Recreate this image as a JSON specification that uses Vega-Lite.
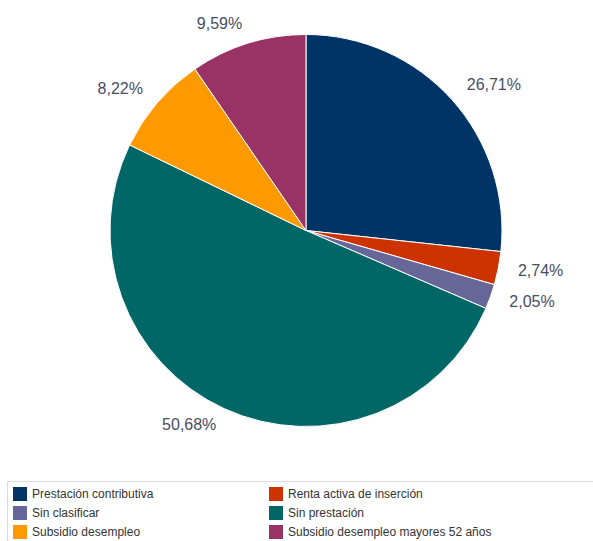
{
  "$schema": "https://vega.github.io/schema/vega-lite/v6.json",
  "width": 612,
  "height": 461,
  "autosize": {"type": "pad"},
  "padding": 0,
  "background": "white",
  "config": {
    "view": {"stroke": null},
    "locale": {"number": {"decimal": ",", "thousands": ".", "grouping": [3], "currency": ["", " €"]}}
  },
  "data": {
    "values": [
      {"cat": "Prestación contributiva", "v": 0.2671},
      {"cat": "Renta activa de inserción", "v": 0.0274},
      {"cat": "Sin clasificar", "v": 0.0205},
      {"cat": "Sin prestación", "v": 0.5068},
      {"cat": "Subsidio desempleo", "v": 0.0822},
      {"cat": "Subsidio desempleo mayores 52 años", "v": 0.0959}
    ]
  },
  "encoding": {
    "theta": {"field": "v", "type": "quantitative", "stack": true},
    "order": {"field": "cat", "type": "nominal", "sort": "ascending"}
  },
  "layer": [
    {
      "mark": {"type": "arc", "outerRadius": 196, "stroke": "white", "strokeWidth": 1},
      "encoding": {
        "color": {
          "field": "cat",
          "type": "nominal",
          "scale": {
            "domain": ["Prestación contributiva", "Renta activa de inserción", "Sin clasificar", "Sin prestación", "Subsidio desempleo", "Subsidio desempleo mayores 52 años"],
            "range": ["#003366", "#cc3300", "#666699", "#006666", "#ff9900", "#993366"]
          },
          "legend": {
            "orient": "none",
            "direction": "horizontal",
            "legendX": 7,
            "legendY": 481,
            "columns": 2,
            "title": "\u00a0",
            "titleOrient": "right",
            "titlePadding": 110,
            "titleFontSize": 4,
            "symbolType": "square",
            "symbolSize": 196,
            "symbolStrokeWidth": 0,
            "labelFont": "Liberation Sans",
            "labelFontSize": 12,
            "labelColor": "#333333",
            "labelOffset": 5,
            "labelLimit": 1000,
            "padding": 6,
            "rowPadding": 5,
            "columnPadding": 115,
            "fillColor": "white",
            "strokeColor": "#dcdce6"
          }
        }
      }
    },
    {
      "mark": {"type": "text", "radius": 216, "align": "left", "baseline": "middle", "dy": -1, "fontSize": 16, "font": "Liberation Sans", "fill": "#474d63"},
      "encoding": {
        "detail": {"field": "cat"},
        "text": {
          "condition": {"test": "datum.cat === 'Prestación contributiva' || datum.cat === 'Renta activa de inserción' || datum.cat === 'Sin clasificar'", "field": "v", "type": "quantitative", "format": ".2%"},
          "value": ""
        }
      }
    },
    {
      "mark": {"type": "text", "radius": 215, "align": "right", "baseline": "middle", "dy": -1, "fontSize": 16, "font": "Liberation Sans", "fill": "#474d63"},
      "encoding": {
        "detail": {"field": "cat"},
        "text": {
          "condition": {"test": "datum.cat === 'Sin prestación' || datum.cat === 'Subsidio desempleo' || datum.cat === 'Subsidio desempleo mayores 52 años'", "field": "v", "type": "quantitative", "format": ".2%"},
          "value": ""
        }
      }
    }
  ]
}
